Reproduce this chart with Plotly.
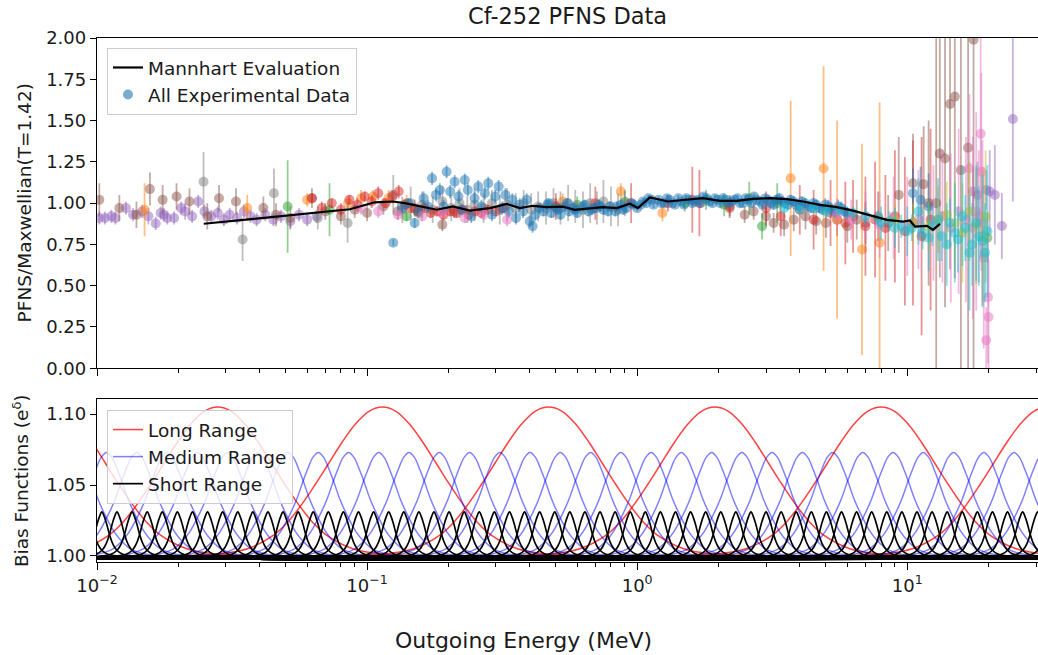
import numpy as np
import plotly.graph_objects as go

purple_E = [0.0102, 0.0107, 0.0113, 0.0117, 0.0128, 0.0136, 0.0147, 0.0155, 0.0165, 0.0172, 0.0177, 0.0182,
            0.0193, 0.0205, 0.0212, 0.0225, 0.0237, 0.025, 0.0265, 0.028, 0.0295, 0.031, 0.033, 0.035, 0.037,
            0.039, 0.042, 0.045, 0.048, 0.052, 0.056, 0.06, 0.065, 17.5, 18.2, 19.6, 20.2, 21.1, 22.4, 24.6]
purple_Y = [0.91, 0.91, 0.92, 0.91, 0.97, 0.93, 0.95, 0.92, 0.877, 0.94, 0.93, 0.91,
            0.91, 0.97, 0.95, 0.92, 1.01, 0.95, 0.92, 0.94, 0.90, 0.93, 0.91, 0.95, 0.92,
            0.90, 0.93, 0.90, 0.92, 0.89, 0.93, 0.90, 0.92, 1.07, 1.05, 1.08, 1.07, 1.05, 0.862, 1.51]
purple_err = [0.04, 0.04, 0.04, 0.04, 0.04, 0.04, 0.04, 0.05, 0.04, 0.04, 0.04, 0.04,
              0.04, 0.04, 0.05, 0.04, 0.04, 0.04, 0.04, 0.04, 0.04, 0.04, 0.04, 0.04, 0.04,
              0.04, 0.04, 0.04, 0.04, 0.04, 0.04, 0.04, 0.04, 0.15, 0.2, 0.12, 0.25, 0.3, 0.2, 0.5]

brown_E = [0.0102, 0.0121, 0.014, 0.0157, 0.0175, 0.0197, 0.022, 0.0256, 0.0283, 0.0327, 0.0413, 0.046,
           0.052, 0.0625, 0.07, 0.08, 0.09, 0.1, 0.115, 0.13, 0.15, 0.19, 0.21,
           2.2, 2.5, 2.7, 3.0, 3.2, 3.5, 3.8, 4.2, 4.6, 5.0, 5.5, 6.0, 6.5, 7.0, 7.8, 8.5,
           9.3, 10.5, 11.5, 12.0, 12.8, 13.2, 13.8, 14.4, 15.0, 15.8, 16.8, 17.6]
brown_Y = [1.02, 0.97, 0.93, 1.085, 1.02, 1.04, 1.01, 0.92, 1.03, 1.01, 0.97, 0.93,
           0.91, 1.03, 0.95, 0.92, 0.96, 0.94, 0.98, 0.95, 0.97, 0.87, 0.95,
           0.97, 0.93, 0.95, 0.92, 0.88, 0.87, 0.90, 0.92, 0.89, 0.88, 0.90, 0.86, 0.90, 0.88, 0.92, 0.88,
           1.05, 1.12, 1.115, 1.0, 1.0, 1.30, 1.27, 1.60, 1.645, 1.2, 1.335, 1.99]
brown_err = [0.1, 0.08, 0.08, 0.1, 0.09, 0.08, 0.08, 0.08, 0.08, 0.08, 0.07, 0.07,
             0.07, 0.06, 0.05, 0.05, 0.05, 0.05, 0.05, 0.05, 0.05, 0.04, 0.04,
             0.05, 0.05, 0.05, 0.06, 0.06, 0.07, 0.07, 0.08, 0.08, 0.09, 0.1, 0.1, 0.12, 0.13, 0.15, 0.17,
             0.35, 0.3, 0.35, 0.5, 1.1, 0.75, 0.9, 1.0, 1.1, 1.5, 1.4, 2.0]

orange_E = [0.015, 0.036, 0.06, 0.085, 0.095, 0.105, 0.12, 0.14, 0.5, 0.53, 0.87, 1.24, 3.7, 4.9, 5.5, 6.8, 7.9]
orange_Y = [0.96, 0.97, 1.02, 1.0, 1.03, 1.04, 1.03, 1.0, 0.98, 1.01, 1.07, 0.94, 1.15, 1.21, 0.9, 0.72, 0.76]
orange_err = [0.16, 0.08, 0.04, 0.04, 0.05, 0.04, 0.05, 0.05, 0.05, 0.05, 0.05, 0.05, 0.47, 0.62, 0.6, 0.64, 0.85]

green_E = [0.0508, 0.0726, 0.14, 0.155, 0.6, 0.9, 1.5, 1.8, 2.1, 2.6, 2.9, 3.3, 19.8]
green_Y = [0.98, 0.96, 0.92, 0.94, 0.99, 1.01, 1.0, 1.02, 0.99, 1.03, 0.86, 1.0, 0.79]
green_err = [0.28, 0.16, 0.03, 0.03, 0.05, 0.06, 0.05, 0.06, 0.07, 0.1, 0.08, 0.12, 0.15]

gray_E = [0.0248, 0.0346, 0.0452, 0.0657, 0.0847, 0.125, 0.135, 0.145, 0.16, 0.175, 0.19, 0.205, 0.22,
          0.235, 0.25, 0.27, 0.29, 0.31, 0.33, 0.355, 0.38, 0.405, 0.43, 0.46, 0.49, 0.52, 0.555,
          0.59, 0.63, 0.67, 0.71, 0.75, 0.8, 0.85, 0.9]
gray_Y = [1.13, 0.78, 1.06, 0.91, 0.88, 1.05, 0.96, 1.0, 0.99, 0.96, 1.01, 0.97, 1.0,
          0.96, 0.99, 0.97, 1.0, 0.96, 0.99, 0.97, 1.0, 0.96, 0.98, 0.97, 1.0, 0.97, 1.0,
          0.98, 0.96, 1.0, 0.97, 1.01, 0.98, 0.96, 1.0]
gray_err = [0.18, 0.13, 0.15, 0.07, 0.12, 0.12, 0.08, 0.1, 0.08, 0.08, 0.09, 0.08, 0.09,
            0.08, 0.1, 0.09, 0.08, 0.09, 0.1, 0.09, 0.08, 0.1, 0.09, 0.1, 0.09, 0.1, 0.11,
            0.1, 0.11, 0.12, 0.1, 0.13, 0.12, 0.1, 0.08]

red_E = [0.0625, 0.068, 0.074, 0.08, 0.086, 0.092, 0.098, 0.104, 0.11, 0.117, 0.124, 0.131, 0.138,
         0.146, 0.154, 0.163, 0.172, 0.182, 0.192, 0.203, 0.214, 0.226, 0.238, 0.251, 0.265, 0.28,
         0.3, 0.32, 0.5, 0.7, 0.95, 1.3, 1.6, 1.7, 2.2, 3.0, 3.4, 4.0, 4.5, 5.2, 5.9, 6.3, 7.0, 7.6,
         8.3, 9.0, 9.8, 10.5, 11.3, 12.2]
red_Y = [1.03, 0.97, 1.0, 0.96, 1.02, 0.99, 1.04, 1.01, 1.06, 1.0, 1.04, 1.07, 0.99,
         0.97, 0.95, 0.97, 0.94, 0.95, 0.93, 0.95, 0.94, 0.96, 0.93, 0.95, 0.94, 0.96,
         0.95, 0.97, 0.98, 1.0, 1.0, 1.0, 1.02, 1.0, 0.98, 0.97, 0.92, 0.96, 0.9, 0.94, 0.88, 0.92, 0.86, 0.9,
         0.85, 0.92, 0.83, 0.88, 0.8, 0.9]
red_err = [0.03, 0.04, 0.03, 0.04, 0.03, 0.04, 0.03, 0.04, 0.04, 0.03, 0.04, 0.04, 0.03,
           0.03, 0.03, 0.03, 0.03, 0.03, 0.03, 0.03, 0.03, 0.03, 0.03, 0.03, 0.03, 0.03,
           0.03, 0.03, 0.08, 0.1, 0.12, 0.05, 0.2, 0.2, 0.07, 0.1, 0.12, 0.15, 0.18, 0.2, 0.25, 0.22, 0.3, 0.35,
           0.32, 0.4, 0.45, 0.5, 0.6, 0.55]

blue_a_E = [0.125, 0.135, 0.142, 0.15, 0.155, 0.162, 0.168, 0.174, 0.18, 0.186, 0.192, 0.197, 0.203, 0.211,
            0.218, 0.224, 0.23, 0.236, 0.243, 0.25, 0.258, 0.265, 0.273, 0.281, 0.29, 0.298, 0.307, 0.316,
            0.325, 0.335, 0.345, 0.356, 0.367, 0.378, 0.39, 0.4, 0.41, 0.42, 0.435, 0.45, 0.465, 0.48, 0.5,
            0.52, 0.54, 0.56, 0.58, 0.6, 0.63, 0.66, 0.69, 0.72, 0.75, 0.79, 0.83, 0.87, 0.91, 0.95, 1.0,
            1.05, 1.1, 1.15, 1.2, 1.26, 1.32, 1.38, 1.45, 1.52, 1.6, 1.68, 1.76, 1.85, 1.94, 2.03, 2.13,
            2.24, 2.35, 2.46, 2.58, 2.71, 2.84, 2.98, 3.13, 3.28, 3.44, 3.61, 3.79, 3.98, 4.18, 4.4, 4.6,
            4.85, 5.1, 5.4, 5.7, 6.0, 10.5, 11.2, 12.0]
blue_a_Y = [0.76, 0.97, 1.0, 0.88, 0.95, 1.03, 0.98, 1.15, 1.05, 1.08, 0.98, 1.19, 1.07, 1.13,
            1.04, 0.96, 1.14, 1.08, 0.92, 1.03, 1.1, 0.98, 1.06, 1.12, 0.93, 1.04, 1.1, 0.97,
            1.05, 0.95, 1.02, 0.91, 0.99, 0.95, 1.02, 0.89, 0.86, 0.93, 0.97, 0.95, 0.99, 0.94, 0.97,
            0.93, 0.98, 0.95, 0.97, 0.94, 0.98, 0.95, 0.97, 0.99, 0.96, 0.98, 0.95, 0.99, 0.97, 1.0, 0.97,
            1.01, 1.03, 0.99, 1.02, 1.0, 1.02, 0.99, 1.01, 1.03, 1.0, 1.02, 1.04, 1.01, 1.03, 1.0, 1.02,
            1.01, 1.03, 1.0, 1.02, 1.04, 1.01, 1.03, 1.0, 1.02, 1.01, 0.99, 1.01, 0.98, 1.0, 0.97, 0.99,
            0.96, 0.98, 0.95, 0.97, 0.94, 1.06, 1.02, 0.98]
blue_a_err = [0.02, 0.03, 0.03, 0.03, 0.03, 0.04, 0.04, 0.04, 0.04, 0.04, 0.04, 0.04, 0.04, 0.04,
              0.04, 0.04, 0.04, 0.04, 0.04, 0.04, 0.04, 0.04, 0.04, 0.04, 0.04, 0.04, 0.04, 0.04,
              0.04, 0.04, 0.04, 0.04, 0.04, 0.04, 0.04, 0.04, 0.04, 0.04, 0.03, 0.03, 0.03, 0.03, 0.03,
              0.03, 0.03, 0.03, 0.03, 0.03, 0.03, 0.03, 0.03, 0.03, 0.03, 0.03, 0.03, 0.03, 0.02, 0.02, 0.02,
              0.02, 0.02, 0.02, 0.02, 0.02, 0.02, 0.02, 0.02, 0.02, 0.02, 0.02, 0.02, 0.02, 0.02, 0.02, 0.02,
              0.02, 0.02, 0.02, 0.02, 0.02, 0.02, 0.02, 0.02, 0.03, 0.03, 0.03, 0.03, 0.03, 0.03, 0.03, 0.03,
              0.03, 0.04, 0.04, 0.04, 0.04, 0.15, 0.2, 0.2]

blue_b_E = [0.47, 0.51, 0.55, 0.59, 0.64, 0.68, 0.73, 0.78, 0.84, 0.89, 0.97, 1.03, 1.08, 1.13, 1.23,
            1.29, 1.35, 1.42, 1.49, 1.56, 1.64, 1.72, 1.81, 1.9, 1.99, 2.08, 2.18, 2.29, 2.4, 2.52, 2.64,
            2.77, 2.91, 3.05, 3.2, 3.36, 3.52, 3.7, 3.88, 4.08, 4.29, 4.5, 4.72, 4.97, 5.25, 5.55, 5.85]
blue_b_Y = [1.0, 0.96, 1.0, 0.96, 0.99, 0.96, 0.98, 0.95, 0.98, 0.96, 0.99, 0.99, 1.0, 1.02, 1.0,
            1.03, 1.0, 1.03, 0.99, 1.02, 1.01, 1.0, 1.03, 1.0, 1.02, 1.03, 1.0, 1.02, 1.0, 1.03, 1.0,
            1.02, 0.99, 1.02, 0.99, 1.03, 1.0, 1.02, 0.99, 1.01, 0.98, 1.0, 0.97, 0.99, 0.96, 0.98, 0.95]
blue_b_err = [0.03, 0.03, 0.03, 0.03, 0.03, 0.03, 0.03, 0.03, 0.03, 0.03, 0.02, 0.02, 0.02, 0.02, 0.02,
              0.02, 0.02, 0.02, 0.02, 0.02, 0.02, 0.02, 0.02, 0.02, 0.02, 0.02, 0.02, 0.02, 0.02, 0.02, 0.02,
              0.02, 0.02, 0.02, 0.03, 0.03, 0.03, 0.03, 0.03, 0.03, 0.03, 0.03, 0.03, 0.04, 0.04, 0.04, 0.04]

pink_E = [0.095, 0.11, 0.13, 0.16, 0.19, 0.23, 0.27, 0.33, 5.5, 6.2, 7.0, 7.9, 8.9, 10.0, 11.0, 12.5,
          13.5, 14.5, 15.5, 16.5, 17.0, 17.5, 18.0, 18.4, 18.7, 18.8, 19.0, 19.2, 19.6, 19.9, 20.0]
pink_Y = [0.97, 0.95, 0.93, 0.92, 0.94, 0.91, 0.93, 0.90, 0.93, 0.90, 0.92, 0.87, 0.91, 0.86, 0.9, 0.88,
          0.92, 0.85, 0.95, 0.90, 1.21, 0.85, 0.95, 0.92, 1.42, 1.19, 0.88, 0.67, 0.17, 0.43, 0.31]
pink_err = [0.04, 0.04, 0.03, 0.03, 0.03, 0.03, 0.03, 0.04, 0.1, 0.12, 0.15, 0.2, 0.25, 0.3, 0.3, 0.35,
            0.4, 0.45, 0.5, 0.5, 0.45, 0.55, 0.6, 0.4, 0.75, 0.6, 0.5, 0.55, 0.2, 0.4, 0.35]

olive_E = [9.0, 10.5, 12.0, 13.0, 14.0, 15.0, 16.0, 17.0, 18.0, 19.0, 19.5]
olive_Y = [0.90, 0.88, 0.86, 0.9, 0.93, 0.88, 0.82, 0.95, 0.86, 0.80, 0.92]
olive_err = [0.1, 0.12, 0.15, 0.2, 0.2, 0.25, 0.3, 0.3, 0.35, 0.4, 0.4]

cyan_E = [3.5, 4.0, 4.5, 5.0, 5.6, 6.3, 7.0, 7.8, 8.0, 8.6, 9.0, 9.5, 10.0, 10.4, 11.0, 11.4, 12.0,
          12.4, 13.0, 13.4, 14.0, 14.4, 15.0, 15.4, 16.0, 16.4, 17.0, 17.4, 18.0, 18.4, 19.0, 19.4, 19.8]
cyan_Y = [0.97, 0.96, 0.97, 0.95, 0.96, 0.94, 0.92, 0.91, 0.88, 0.89, 0.85, 0.86, 0.83, 0.85, 0.95, 0.82,
          0.79, 0.86, 0.9, 0.80, 0.75, 0.88, 0.82, 0.78, 0.92, 0.85, 0.70, 0.75, 0.88, 0.80, 0.77, 0.70, 0.83]
cyan_err = [0.03, 0.03, 0.03, 0.04, 0.04, 0.04, 0.05, 0.05, 0.1, 0.06, 0.12, 0.07, 0.15, 0.08, 0.2, 0.1,
            0.2, 0.12, 0.25, 0.15, 0.25, 0.15, 0.3, 0.2, 0.3, 0.2, 0.35, 0.25, 0.35, 0.3, 0.4, 0.3, 0.4]

# Mannhart evaluation
mann_E = [0.02485, 0.031, 0.0475, 0.0614, 0.0863, 0.1068, 0.1245, 0.1379, 0.1812, 0.2077, 0.2401, 0.2848,
          0.3292, 0.3677, 0.4109, 0.463, 0.5306, 0.5877, 0.6512, 0.7464, 0.841, 0.9396, 1.006, 1.114,
          1.299, 1.476, 1.751, 2.024, 2.34, 2.682, 3.101, 3.584, 4.11, 4.75, 5.49, 6.295, 7.276, 8.412,
          9.641, 10.23, 10.68, 11.83, 12.45, 13.22]
mann_Y = [0.875, 0.89, 0.92, 0.94, 0.963, 1.005, 1.01, 1.0, 0.96, 0.98, 0.955, 0.97,
          0.995, 0.97, 0.984, 0.976, 0.979, 0.959, 0.965, 0.976, 0.97, 0.996, 0.97, 1.034,
          1.01, 1.02, 1.03, 1.014, 1.014, 1.026, 1.03, 1.024, 1.01, 0.99, 0.976, 0.955, 0.929, 0.899,
          0.888, 0.895, 0.858, 0.862, 0.838, 0.874]

# ---------------- bias functions ----------------
long_centers = [0.0068, 0.028, 0.114, 0.47, 1.94, 8.0, 33.0]
long_offsets = [0.0, 0.05, 0.1, 0.15, 0.2, 0.25, 0.3, 0.35, 0.4, 0.5, 0.6, 0.8]
long_values = [1.105, 1.102, 1.093, 1.080, 1.065, 1.050, 1.036, 1.024, 1.015, 1.005, 1.0015, 1.0]

medium_centers = [0.00839, 0.01085, 0.01404, 0.01817, 0.02351, 0.03043, 0.03939, 0.05097, 0.06597,
                  0.0854, 0.1105, 0.143, 0.1851, 0.2396, 0.3101, 0.4013, 0.5194, 0.6723, 0.87,
                  1.126, 1.457, 1.886, 2.441, 3.159, 4.089, 5.29, 6.846, 8.862, 11.47, 14.84,
                  19.21, 24.86, 32.17]
medium_offsets = [0.0, 0.02, 0.04, 0.056, 0.08, 0.111, 0.14, 0.167, 0.2, 0.25, 0.3]
medium_values = [1.073, 1.0695, 1.061, 1.053, 1.040, 1.027, 1.017, 1.0105, 1.005, 1.0015, 1.0]

short_centers = [0.009166, 0.010425, 0.011858, 0.013485, 0.01534, 0.017447, 0.019842, 0.022567,
                 0.025668, 0.029192, 0.033204, 0.03776, 0.042947, 0.048846, 0.055551, 0.063179,
                 0.071855, 0.081722, 0.092945, 0.10571, 0.12023, 0.13674, 0.15553, 0.1769, 0.20119,
                 0.22881, 0.26025, 0.296, 0.33667, 0.38288, 0.43546, 0.49527, 0.56327, 0.6406,
                 0.7286, 0.82862, 0.94239, 1.0718, 1.219, 1.3864, 1.5768, 1.7934, 2.0396, 2.3196,
                 2.6381, 3.0004, 3.4124, 3.881, 4.414, 5.02, 5.7094, 6.4935, 7.3851, 8.3993, 9.5529,
                 10.865, 12.357, 14.054, 15.984, 18.179, 20.676, 23.515, 26.745, 30.418, 34.595]
short_offsets = [0.0, 0.0093, 0.0185, 0.0278, 0.037, 0.046, 0.0556, 0.074, 0.111]
short_values = [1.031, 1.0275, 1.022, 1.0152, 1.010, 1.0065, 1.004, 1.0015, 1.0]

# axis ticks
major_ticks = [0.01, 0.1, 1, 10]
major_text = ['10<sup>\u22122</sup>', '10<sup>\u22121</sup>', '10<sup>0</sup>', '10<sup>1</sup>']
minor_ticks = [m * d for d in [0.01, 0.1, 1, 10] for m in range(2, 10)]

# ---------------- styling ----------------
TAB = {
    'blue': (31, 119, 180), 'orange': (255, 127, 14), 'green': (44, 160, 44), 'red': (214, 39, 40),
    'purple': (148, 103, 189), 'brown': (140, 86, 75), 'pink': (227, 119, 194), 'gray': (127, 127, 127),
    'olive': (188, 189, 34), 'cyan': (23, 190, 207),
}


def rgba(name, a):
    r, g, b = TAB[name]
    return f'rgba({r},{g},{b},{a})'


FONT = 'DejaVu Sans'
TXT = '#1a1a1a'
fig = go.Figure()


def add_series(E, Y, ERR, cname):
    fig.add_trace(go.Scatter(
        x=E, y=Y, mode='markers', xaxis='x', yaxis='y',
        marker=dict(size=10, color=rgba(cname, 0.5), line=dict(width=0)),
        error_y=dict(type='data', array=ERR, visible=True, color=rgba(cname, 0.5), thickness=1.8, width=0),
        showlegend=False, hoverinfo='skip'))


add_series(purple_E, purple_Y, purple_err, 'purple')
add_series(brown_E, brown_Y, brown_err, 'brown')
add_series(orange_E, orange_Y, orange_err, 'orange')
add_series(green_E, green_Y, green_err, 'green')
add_series(gray_E, gray_Y, gray_err, 'gray')
add_series(red_E, red_Y, red_err, 'red')
add_series(blue_a_E, blue_a_Y, blue_a_err, 'blue')
add_series(blue_b_E, blue_b_Y, blue_b_err, 'blue')
add_series(pink_E, pink_Y, pink_err, 'pink')
add_series(olive_E, olive_Y, olive_err, 'olive')
add_series(cyan_E, cyan_Y, cyan_err, 'cyan')

fig.add_trace(go.Scatter(x=mann_E, y=mann_Y, mode='lines', line=dict(color='black', width=2.2),
                         name='Mannhart Evaluation', xaxis='x', yaxis='y', legend='legend', legendrank=1,
                         hoverinfo='skip'))
fig.add_trace(go.Scatter(x=[None], y=[None], mode='markers', name='All Experimental Data',
                         marker=dict(size=10, color=rgba('blue', 0.6)), xaxis='x', yaxis='y',
                         legend='legend', legendrank=2))


def bump_family(centers, offsets, values):
    off = np.array(offsets)
    val = np.array(values)
    xs, ys = [], []
    for c in centers:
        left = c * 10 ** (-off[::-1])
        right = c * 10 ** (off[1:])
        xs += [1e-4] + list(left) + list(right) + [1e3, None]
        ys += [values[-1]] + list(val[::-1]) + list(val[1:]) + [values[-1], None]
    return xs, ys


for name, cen, off, val, col, w in [
    ('Long Range', long_centers, long_offsets, long_values, 'rgba(255,0,0,0.75)', 1.5),
    ('Medium Range', medium_centers, medium_offsets, medium_values, 'rgba(0,0,255,0.5)', 1.5),
    ('Short Range', short_centers, short_offsets, short_values, 'rgba(0,0,0,1)', 1.7),
]:
    bx, by = bump_family(cen, off, val)
    fig.add_trace(go.Scatter(x=bx, y=by, mode='lines', line=dict(color=col, width=w, shape='spline'),
                             name=name, xaxis='x2', yaxis='y2', legend='legend2', connectgaps=False,
                             hoverinfo='skip'))

xr = [-2, 1.4841]
axis_common = dict(showline=True, linecolor='black', linewidth=1.3, mirror=True, showgrid=False,
                   zeroline=False, ticks='outside', tickcolor='black', tickwidth=1.3,
                   tickfont=dict(family=FONT, size=18, color=TXT))
minor_cfg = dict(tickmode='array', tickvals=minor_ticks, ticks='outside', ticklen=4, tickcolor='black',
                 tickwidth=1, showgrid=False)

fig.update_layout(
    width=1038, height=655,
    margin=dict(l=97, r=0, t=38, b=93),
    paper_bgcolor='white', plot_bgcolor='white',
    font=dict(family=FONT, size=18, color=TXT),
    xaxis=dict(type='log', range=xr, domain=[0, 1], anchor='y', showticklabels=False, ticklen=7,
               tickmode='array', tickvals=major_ticks, minor=minor_cfg, **axis_common),
    yaxis=dict(range=[0, 2], domain=[0.3697, 1], anchor='x', tickvals=[0, 0.25, 0.5, 0.75, 1.0, 1.25, 1.5, 1.75, 2.0],
               tickformat='.2f', ticklen=6, **axis_common),
    xaxis2=dict(type='log', range=xr, domain=[0, 1], anchor='y2', tickmode='array', tickvals=major_ticks,
                ticktext=major_text, ticklen=7, minor=minor_cfg, **axis_common),
    yaxis2=dict(range=[0.9957, 1.1107], domain=[0, 0.3111], anchor='x2', tickvals=[1.0, 1.05, 1.10],
                tickformat='.2f', ticklen=6, **axis_common),
    legend=dict(x=0.0106, y=0.981, xanchor='left', yanchor='top', bgcolor='rgba(255,255,255,0.8)',
                bordercolor='#cccccc', borderwidth=1, font=dict(family=FONT, size=18.5, color=TXT)),
    legend2=dict(x=0.0106, y=0.290, xanchor='left', yanchor='top', bgcolor='rgba(255,255,255,0.8)',
                 bordercolor='#cccccc', borderwidth=1, font=dict(family=FONT, size=18.5, color=TXT)),
    showlegend=True,
    annotations=[
        dict(text='Cf-252 PFNS Data', x=0.5, y=1.0417, xref='paper', yref='paper', showarrow=False,
             xanchor='center', yanchor='middle', font=dict(family=FONT, size=22.5, color=TXT)),
        dict(text='Outgoing Energy (MeV)', x=0.4536, y=-0.1489, xref='paper', yref='paper', showarrow=False,
             xanchor='center', yanchor='middle', font=dict(family=FONT, size=22, color=TXT)),
        dict(text='PFNS/Maxwellian(T=1.42)', x=-0.0772, y=0.685, xref='paper', yref='paper', showarrow=False,
             textangle=-90, xanchor='center', yanchor='middle', font=dict(family=FONT, size=18.5, color=TXT)),
        dict(text='Bias Functions (e<sup>δ</sup>)', x=-0.0815, y=0.155, xref='paper', yref='paper',
             showarrow=False, textangle=-90, xanchor='center', yanchor='middle',
             font=dict(family=FONT, size=18.5, color=TXT)),
    ],
)

fig.write_html('out.html', config={'displayModeBar': False},
               post_script="document.body.style.margin='0';document.body.style.overflow='hidden';")
